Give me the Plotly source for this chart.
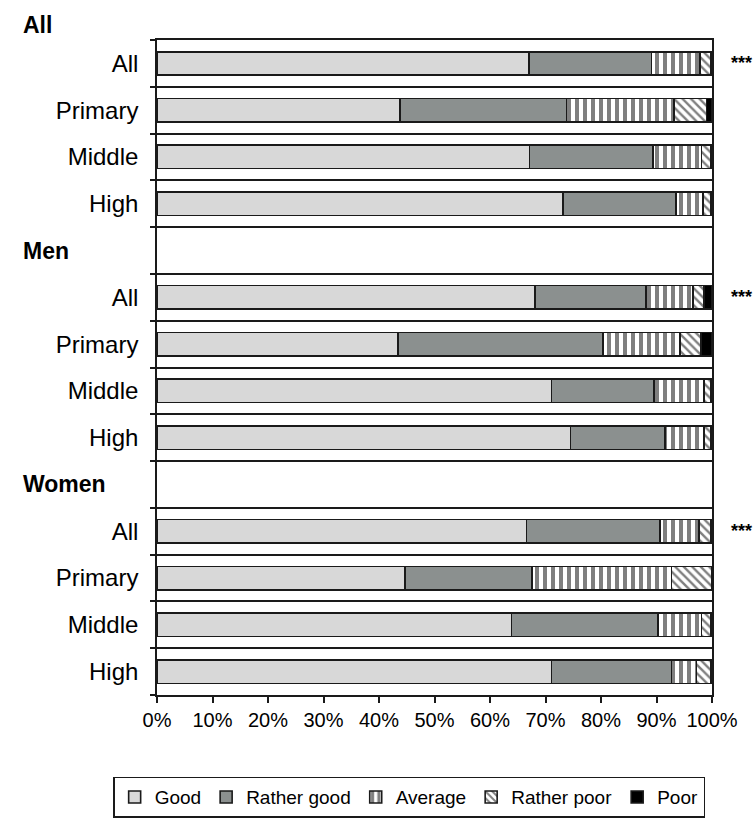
import plotly.graph_objects as go

# ---- data ----
groups = ["All", "Men", "Women"]
levels = ["All", "Primary", "Middle", "High"]
row_ids = ["All|All", "All|Primary", "All|Middle", "All|High",
           "Men|", "Men|All", "Men|Primary", "Men|Middle", "Men|High",
           "Women|", "Women|All", "Women|Primary", "Women|Middle", "Women|High"]
row_labels = ["All", "Primary", "Middle", "High",
              "", "All", "Primary", "Middle", "High",
              "", "All", "Primary", "Middle", "High"]

good        = [67.0, 43.8, 67.1, 73.1, None, 68.1, 43.4, 71.1, 74.5, None, 66.6, 44.7, 63.9, 71.1]
rather_good = [22.1, 30.0, 22.3, 20.4, None, 20.0, 37.0, 18.4, 17.0, None, 24.0, 22.9, 26.4, 21.6]
average     = [8.7, 19.4, 8.7, 4.9, None, 8.5, 13.8, 9.1, 7.1, None, 7.1, 25.1, 7.8, 4.5]
rather_poor = [1.9, 5.8, 1.7, 1.4, None, 2.0, 3.8, 1.2, 1.2, None, 2.1, 7.3, 1.7, 2.6]
poor        = [0.3, 1.0, 0.2, 0.2, None, 1.4, 2.0, 0.2, 0.2, None, 0.2, 0.0, 0.2, 0.2]

sig_rows = ["All|All", "Men|All", "Women|All"]
sig_text = "***"
header_rows = {"Men": "Men|", "Women": "Women|"}

FONT = "Liberation Sans, Arial, sans-serif"
LINE = dict(color="#1a1a1a", width=1.6)

series = [
    ("Good", good, dict(color="#d8d8d8", line=LINE)),
    ("Rather good", rather_good, dict(color="#8b908f", line=LINE)),
    ("Average", average, dict(color="white", line=LINE,
                              pattern=dict(shape="|", fgcolor="black", bgcolor="white",
                                           size=8, solidity=0.5, fillmode="overlay"))),
    ("Rather poor", rather_poor, dict(color="white", line=LINE,
                                      pattern=dict(shape="\\", fgcolor="black", bgcolor="white",
                                                   size=6, solidity=0.4, fillmode="overlay"))),
    ("Poor", poor, dict(color="black", line=LINE)),
]

fig = go.Figure()
for name, vals, marker in series:
    fig.add_trace(go.Bar(
        name=name, x=vals, y=row_ids, orientation="h",
        width=0.5, marker=marker,
    ))

annotations = []
for r in sig_rows:
    annotations.append(dict(x=1.03, xref="paper", y=r, yref="y", text="<b>%s</b>" % sig_text,
                            showarrow=False, xanchor="left", yanchor="middle",
                            font=dict(family=FONT, size=18, color="black")))
annotations.append(dict(x=-0.245, xref="paper", y=1.023, yref="paper", text="<b>All</b>",
                        showarrow=False, xanchor="left", yanchor="middle",
                        font=dict(family=FONT, size=23, color="black")))
for g, r in header_rows.items():
    annotations.append(dict(x=-0.245, xref="paper", y=r, yref="y", text="<b>%s</b>" % g,
                            showarrow=False, xanchor="left", yanchor="middle",
                            font=dict(family=FONT, size=23, color="black")))

fig.update_layout(
    width=756, height=819,
    margin=dict(l=157, r=44, t=40, b=124, autoexpand=False),
    paper_bgcolor="white", plot_bgcolor="white",
    barmode="stack", bargap=0.5,
    font=dict(family=FONT, size=20, color="black"),
    showlegend=True,
    legend=dict(orientation="h", x=-0.079, xanchor="left", y=-0.156, yanchor="middle",
                bordercolor="#1a1a1a", borderwidth=1.5, bgcolor="white",
                font=dict(family=FONT, size=19, color="black"),
                itemwidth=30, traceorder="normal", tracegroupgap=0,
                itemclick=False),
    annotations=annotations,
)
fig.update_xaxes(range=[0, 100], tickmode="array", tickvals=list(range(0, 101, 10)),
                 ticktext=["%d%%" % v for v in range(0, 101, 10)],
                 ticks="outside", ticklen=6, tickwidth=1.5, tickcolor="#1a1a1a",
                 showline=True, linecolor="#1a1a1a", linewidth=1.6, mirror=True,
                 showgrid=False, zeroline=False,
                 tickfont=dict(family=FONT, size=20, color="black"), fixedrange=True)
fig.update_yaxes(type="category", categoryorder="array", categoryarray=row_ids,
                 range=[13.5, -0.5], tickmode="array", tickvals=row_ids, ticktext=row_labels,
                 tickson="boundaries", ticks="outside", ticklen=5, tickwidth=1.5,
                 tickcolor="#1a1a1a", showgrid=True, gridcolor="#1a1a1a", gridwidth=1.8,
                 showline=True, linecolor="#1a1a1a", linewidth=1.6, mirror=True,
                 ticklabelstandoff=12,
                 tickfont=dict(family=FONT, size=24, color="black"), fixedrange=True)

fig.write_html("out.html")
